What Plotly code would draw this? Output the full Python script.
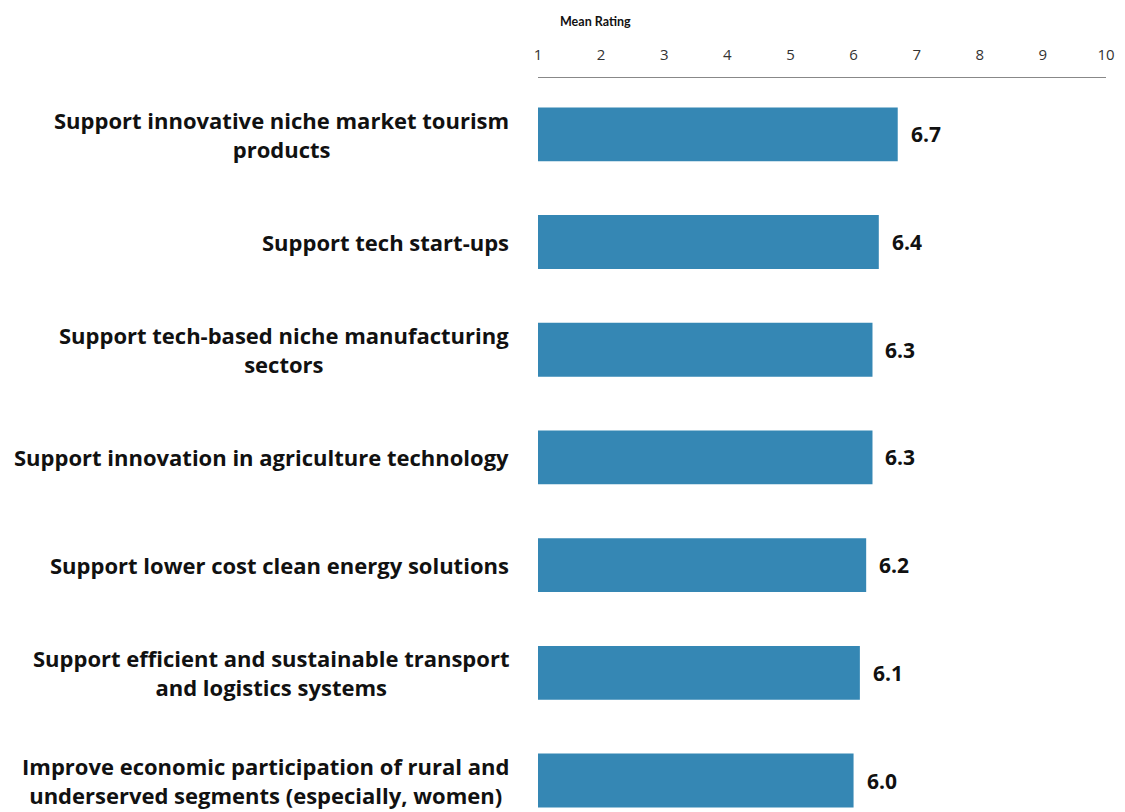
import plotly.graph_objects as go

# categories, top to bottom
labels = [
    "Support innovative niche market tourism<br>products",
    "Support tech start-ups",
    "Support tech-based niche manufacturing<br>sectors",
    "Support innovation in agriculture technology",
    "Support lower cost clean energy solutions",
    "Support efficient and sustainable transport<br>and logistics systems",
    "Improve economic participation of rural and<br>underserved segments (especially, women)",
]
ratings = [6.7, 6.4, 6.3, 6.3, 6.2, 6.1, 6.0]
ticks = list(range(1, 11))

font = "'Open Sans', sans-serif"
ids = [str(i) for i in range(len(labels))]

fig = go.Figure(go.Bar(
    x=[r - 1 for r in ratings],
    base=1,
    y=ids,
    orientation="h",
    marker=dict(color="#3587b4", line=dict(width=0)),
    width=0.5,
    hoverinfo="skip",
))

# category labels, centred lines, right aligned block
for i, lab in enumerate(labels):
    fig.add_annotation(x=0, xref="paper", y=ids[i], yref="y", text=lab,
                       xanchor="right", xshift=-27, align="center", showarrow=False,
                       font=dict(family=font, size=22, color="#111111", weight="bold"))

# value labels next to the bars
for i, r in enumerate(ratings):
    fig.add_annotation(x=r, y=ids[i], text=f"{r:.1f}", xanchor="left", xshift=11,
                       showarrow=False,
                       font=dict(family=font, size=21, color="#111111", weight="bold"))

fig.add_annotation(x=0.101, xref="paper", y=1, yref="paper", yshift=57, text="Mean Rating",
                   xanchor="center", yanchor="middle", showarrow=False,
                   font=dict(family="Lato, sans-serif", size=12.5, color="#111111", weight="bold"))

fig.update_xaxes(side="top", range=[1, 10], tickvals=ticks, showgrid=False,
                 showline=True, linecolor="#888888", linewidth=1, ticks="",
                 tickfont=dict(family=font, size=15, color="#333333"), ticklabelstandoff=11,
                 zeroline=False, fixedrange=True)
fig.update_yaxes(showticklabels=False, showgrid=False, zeroline=False,
                 range=[6.292, -0.523], fixedrange=True)

fig.update_layout(
    width=1117, height=804,
    margin=dict(l=530, r=19, t=70, b=0),
    plot_bgcolor="white", paper_bgcolor="white",
    showlegend=False,
)

fig.write_html("out.html")
